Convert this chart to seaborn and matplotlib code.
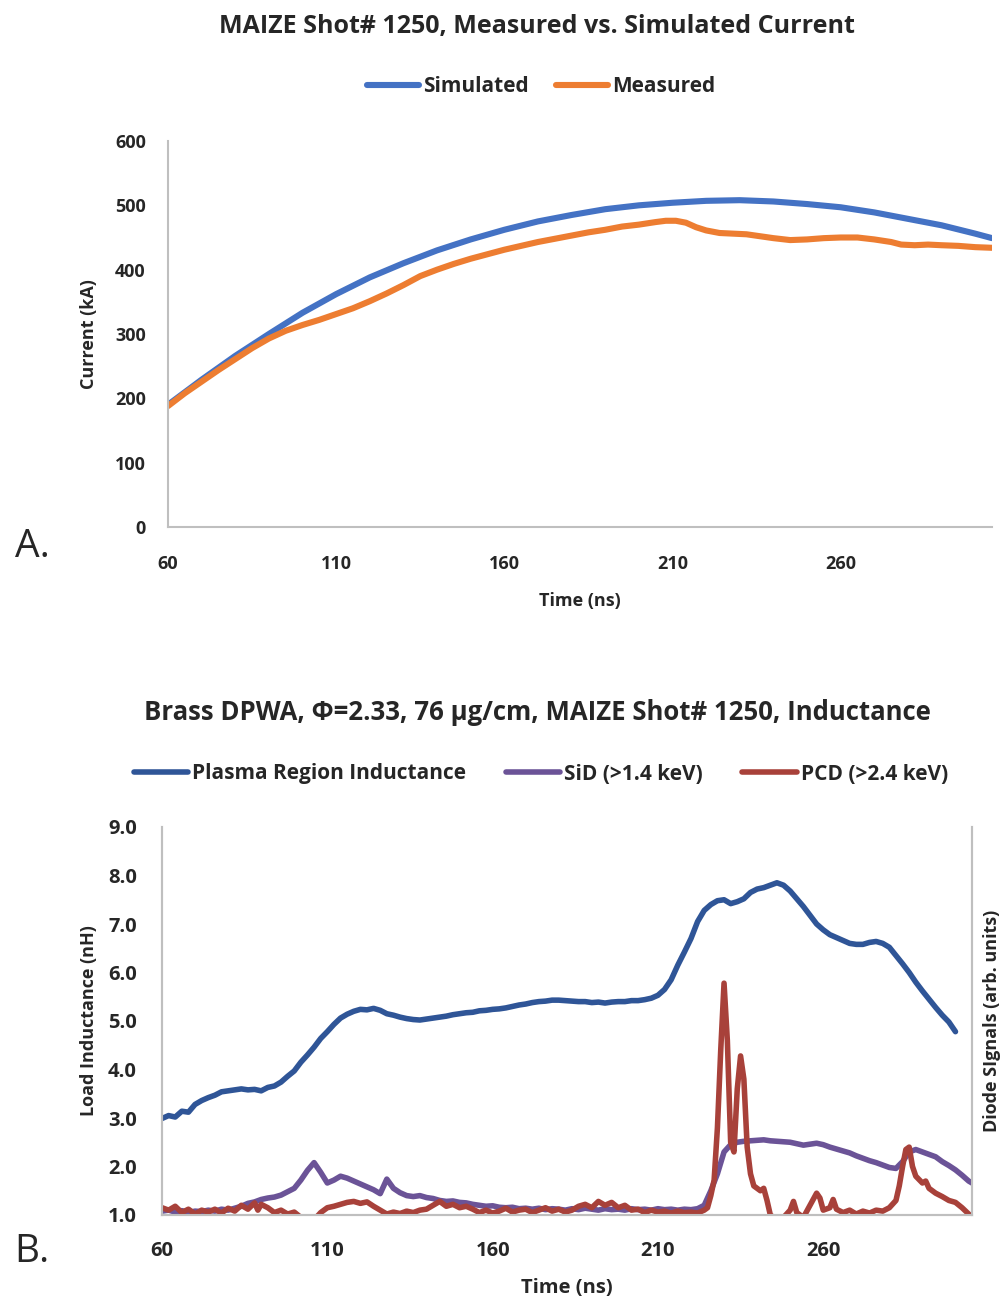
import matplotlib
matplotlib.use("Agg")
import matplotlib.pyplot as plt
import seaborn as sns

# ---- Panel A: measured vs simulated current ----
t_sim = [60, 70, 80, 90, 100, 110, 120, 130, 140, 150, 160, 170, 180, 190, 200,
         210, 220, 230, 240, 250, 260, 270, 280, 290, 300, 305]
i_sim = [190, 229, 266, 300, 333, 362, 388, 410, 430, 447, 462, 475, 485, 494, 500,
         504, 507, 508, 506, 502, 497, 489, 479, 469, 456, 449]

t_meas = [60, 65, 70, 75, 80, 85, 90, 95, 100, 105, 110, 115, 120, 125, 130, 135,
          140, 145, 150, 155, 160, 165, 170, 175, 180, 185, 190, 195, 200, 205, 208,
          211, 214, 217, 220, 224, 228, 232, 236, 240, 245, 250, 255, 260, 265, 270,
          275, 278, 282, 286, 290, 295, 300, 305]
i_meas = [188, 208, 226, 244, 261, 278, 293, 305, 314, 322, 331, 340, 351, 363, 376, 390,
          400, 409, 417, 424, 431, 437, 443, 448, 453, 458, 462, 467, 470, 474, 476,
          476, 473, 466, 461, 457, 456, 455, 452, 449, 446, 447, 449, 450, 450, 447,
          443, 439, 438, 439, 438, 437, 435, 434]

# ---- Panel B: plasma inductance and diode signals ----
t_ind = list(range(60, 302, 2))
l_ind = [2.99, 3.05, 3.02, 3.14, 3.12, 3.28, 3.36, 3.42, 3.47, 3.54, 3.56, 3.58, 3.60,
         3.58, 3.59, 3.56, 3.63, 3.66, 3.74, 3.86, 3.97, 4.15, 4.30, 4.46, 4.64, 4.78,
         4.93, 5.06, 5.14, 5.20, 5.24, 5.23, 5.26, 5.22, 5.15, 5.12, 5.08, 5.05, 5.03,
         5.02, 5.04, 5.06, 5.08, 5.10, 5.13, 5.15, 5.17, 5.18, 5.21, 5.22, 5.24, 5.25,
         5.27, 5.30, 5.33, 5.35, 5.38, 5.40, 5.41, 5.43, 5.43, 5.42, 5.41, 5.40, 5.40,
         5.38, 5.39, 5.37, 5.39, 5.40, 5.40, 5.42, 5.42, 5.44, 5.47, 5.53, 5.65, 5.85,
         6.15, 6.42, 6.70, 7.05, 7.28, 7.40, 7.48, 7.50, 7.42, 7.46, 7.52, 7.65, 7.72,
         7.75, 7.80, 7.85, 7.80, 7.68, 7.52, 7.36, 7.18, 7.00, 6.88, 6.78, 6.72, 6.66,
         6.60, 6.58, 6.58, 6.62, 6.64, 6.60, 6.52, 6.35, 6.18, 6.00, 5.80, 5.62, 5.45,
         5.28, 5.12, 4.98, 4.78]

t_sid = list(range(60, 306, 2)) + [305]
sid = [0.08, 0.10, 0.06, 0.09, 0.05, 0.08, 0.07, 0.10, 0.08, 0.12, 0.10, 0.14, 0.18,
       0.24, 0.27, 0.32, 0.35, 0.37, 0.41, 0.48, 0.55, 0.72, 0.92, 1.08, 0.88, 0.66,
       0.72, 0.80, 0.76, 0.70, 0.64, 0.58, 0.52, 0.44, 0.74, 0.55, 0.46, 0.40, 0.38,
       0.40, 0.36, 0.34, 0.30, 0.28, 0.29, 0.26, 0.25, 0.22, 0.20, 0.18, 0.19, 0.16,
       0.15, 0.16, 0.13, 0.14, 0.12, 0.14, 0.11, 0.13, 0.12, 0.10, 0.13, 0.11, 0.14,
       0.12, 0.10, 0.13, 0.11, 0.12, 0.10, 0.13, 0.11, 0.12, 0.10, 0.13, 0.11, 0.12,
       0.10, 0.12, 0.11, 0.13, 0.20, 0.50, 0.85, 1.30, 1.45, 1.50, 1.52, 1.53, 1.54,
       1.55, 1.53, 1.52, 1.51, 1.50, 1.47, 1.44, 1.46, 1.48, 1.45, 1.40, 1.36, 1.32,
       1.28, 1.22, 1.17, 1.12, 1.08, 1.03, 0.98, 0.96, 1.10, 1.30, 1.35, 1.30, 1.25,
       1.20, 1.10, 1.02, 0.93, 0.82, 0.70, 0.66]

t_pcd = [60, 62, 64, 66, 68, 70, 72, 74, 76, 78, 80, 82, 84, 86, 88, 89, 90, 92, 94,
         96, 98, 100, 102, 104, 106, 108, 110, 112, 114, 116, 118, 120, 122, 124, 126,
         128, 130, 132, 134, 136, 138, 140, 142, 144, 146, 148, 150, 152, 154, 156, 158,
         160, 162, 164, 166, 168, 170, 172, 174, 176, 178, 180, 182, 184, 186, 188, 190,
         192, 194, 196, 198, 200, 202, 204, 206, 208, 210, 212, 214, 216, 218, 220, 222,
         224, 225, 226, 227, 228, 229, 230, 231, 232, 233, 234, 235, 236, 237, 238, 239,
         240, 241, 242, 243, 244, 246, 248, 250, 251, 252, 254, 256, 258, 259, 260, 262,
         263, 264, 266, 268, 270, 272, 274, 276, 278, 280, 282, 283, 284, 285, 286, 287,
         288, 290, 291, 292, 294, 296, 298, 300, 302, 304, 305]
pcd = [0.15, 0.10, 0.18, 0.05, 0.12, 0.02, 0.10, 0.06, 0.12, 0.04, 0.14, 0.08, 0.20,
       0.12, 0.25, 0.10, 0.22, 0.15, 0.05, 0.10, 0.02, 0.06, -0.05, -0.08, -0.10, 0.05,
       0.15, 0.18, 0.22, 0.26, 0.28, 0.24, 0.27, 0.18, 0.10, 0.02, 0.06, 0.03, 0.08,
       0.05, 0.10, 0.12, 0.20, 0.28, 0.18, 0.22, 0.15, 0.18, 0.12, 0.05, 0.10, 0.04,
       0.08, 0.14, 0.06, 0.10, 0.12, 0.05, 0.10, 0.15, 0.08, 0.12, 0.06, 0.10, 0.18,
       0.22, 0.15, 0.28, 0.20, 0.26, 0.15, 0.20, 0.10, 0.12, 0.05, 0.10, 0.06, 0.08,
       0.04, 0.08, 0.05, 0.06, 0.04, 0.10, 0.15, 0.40, 0.72, 1.80, 3.40, 4.78, 3.60,
       1.50, 1.30, 2.60, 3.28, 2.80, 1.40, 0.85, 0.60, 0.55, 0.50, 0.55, 0.30, 0.00,
       -0.10, -0.05, 0.10, 0.28, 0.05, -0.05, 0.20, 0.45, 0.35, 0.10, 0.15, 0.32, 0.12,
       0.05, 0.10, 0.02, 0.08, 0.04, 0.10, 0.08, 0.15, 0.30, 0.60, 1.00, 1.35, 1.40,
       1.00, 0.80, 0.66, 0.70, 0.55, 0.45, 0.38, 0.30, 0.26, 0.15, 0.02, -0.05]

x_ticks = [60, 110, 160, 210, 260]

sns.set_theme(style="white")
plt.rcParams['font.family'] = ['Open Sans', 'DejaVu Sans']
spine_col = '#bfbfbf'

fig = plt.figure(figsize=(10.04, 12.99), dpi=100)
W, H = 1004, 1299

def px_axes(l, t, r, b):
    return fig.add_axes([l / W, 1 - b / H, (r - l) / W, (b - t) / H])

# ---------------- Panel A ----------------
ax1 = px_axes(168, 141, 992, 527)
sns.lineplot(x=t_sim, y=i_sim, ax=ax1, color='#4472C4', lw=4.4, label='Simulated')
sns.lineplot(x=t_meas, y=i_meas, ax=ax1, color='#ED7D31', lw=4.4, label='Measured')
ax1.set_xlim(60, 305)
ax1.set_ylim(0, 600)
ax1.set_xticks(x_ticks)
ax1.set_yticks(range(0, 601, 100))
for s in ['top', 'right']:
    ax1.spines[s].set_visible(False)
for s in ['left', 'bottom']:
    ax1.spines[s].set_color(spine_col)
    ax1.spines[s].set_linewidth(1.5)
ax1.tick_params(axis='y', length=0, labelsize=13, pad=16)
ax1.tick_params(axis='x', length=0, labelsize=13, pad=20)
for lab in ax1.get_xticklabels() + ax1.get_yticklabels():
    lab.set_fontweight('bold')
ax1.set_xlabel('Time (ns)', fontsize=13, fontweight='bold', labelpad=14)
ax1.set_ylabel('Current (kA)', fontsize=13, fontweight='bold', labelpad=12)
ax1.legend_.remove()
h1, lab1 = ax1.get_legend_handles_labels()
fig.legend(h1, lab1, loc='center', bbox_to_anchor=(541 / W, 1 - 87 / H), ncol=2,
           frameon=False, handlelength=2.5, handletextpad=0.2, columnspacing=1.3,
           prop={'weight': 'bold', 'size': 15})
fig.text(537 / W, 1 - 27 / H, 'MAIZE Shot# 1250, Measured vs. Simulated Current',
         ha='center', va='center', fontsize=18, fontweight='bold')
fig.text(32 / W, 1 - 547 / H, 'A.', ha='center', va='center', fontsize=28)

# ---------------- Panel B ----------------
ax2 = px_axes(162, 827, 972, 1215)
ax3 = ax2.twinx()
sns.lineplot(x=t_ind, y=l_ind, ax=ax2, color='#2F5597', lw=4.0,
             label='Plasma Region Inductance')
sns.lineplot(x=t_sid, y=sid, ax=ax3, color='#6B5397', lw=4.0, label='SiD (>1.4 keV)')
sns.lineplot(x=t_pcd, y=pcd, ax=ax3, color='#A8413A', lw=4.0, label='PCD (>2.4 keV)')
ax2.set_xlim(60, 305)
ax2.set_ylim(1, 9)
ax3.set_ylim(0, 8)
ax2.set_xticks(x_ticks)
ax2.set_yticks(range(1, 10))
ax2.set_yticklabels([f'{v:.1f}' for v in range(1, 10)])
ax3.set_yticks([])
for a in (ax2, ax3):
    a.spines['top'].set_visible(False)
    for s in ['left', 'bottom', 'right']:
        a.spines[s].set_color(spine_col)
        a.spines[s].set_linewidth(1.5)
ax2.tick_params(axis='y', length=0, labelsize=14.5, pad=18)
ax2.tick_params(axis='x', length=0, labelsize=14.5, pad=19)
for lab in ax2.get_xticklabels() + ax2.get_yticklabels():
    lab.set_fontweight('bold')
ax2.set_xlabel('Time (ns)', fontsize=14.5, fontweight='bold', labelpad=12)
ax2.set_ylabel('Load Inductance (nH)', fontsize=13, fontweight='bold', labelpad=7)
ax3.set_ylabel('Diode SIgnals (arb. units)', fontsize=13, fontweight='bold',
               labelpad=8)
h2, lab2 = ax2.get_legend_handles_labels()
h3, lab3 = ax3.get_legend_handles_labels()
ax2.legend_.remove()
ax3.legend_.remove()
fig.legend(h2 + h3, lab2 + lab3, loc='center', bbox_to_anchor=(541 / W, 1 - 774 / H),
           ncol=3, frameon=False, handlelength=2.6, handletextpad=0.2,
           columnspacing=1.9, prop={'weight': 'bold', 'size': 15})
fig.text(537 / W, 1 - 713 / H,
         'Brass DPWA, \u03a6=2.33, 76 \u00b5g/cm, MAIZE Shot# 1250, Inductance',
         ha='center', va='center', fontsize=18.5, fontweight='bold')
fig.text(32 / W, 1 - 1252 / H, 'B.', ha='center', va='center', fontsize=28)

fig.savefig('out.png', dpi=100)
